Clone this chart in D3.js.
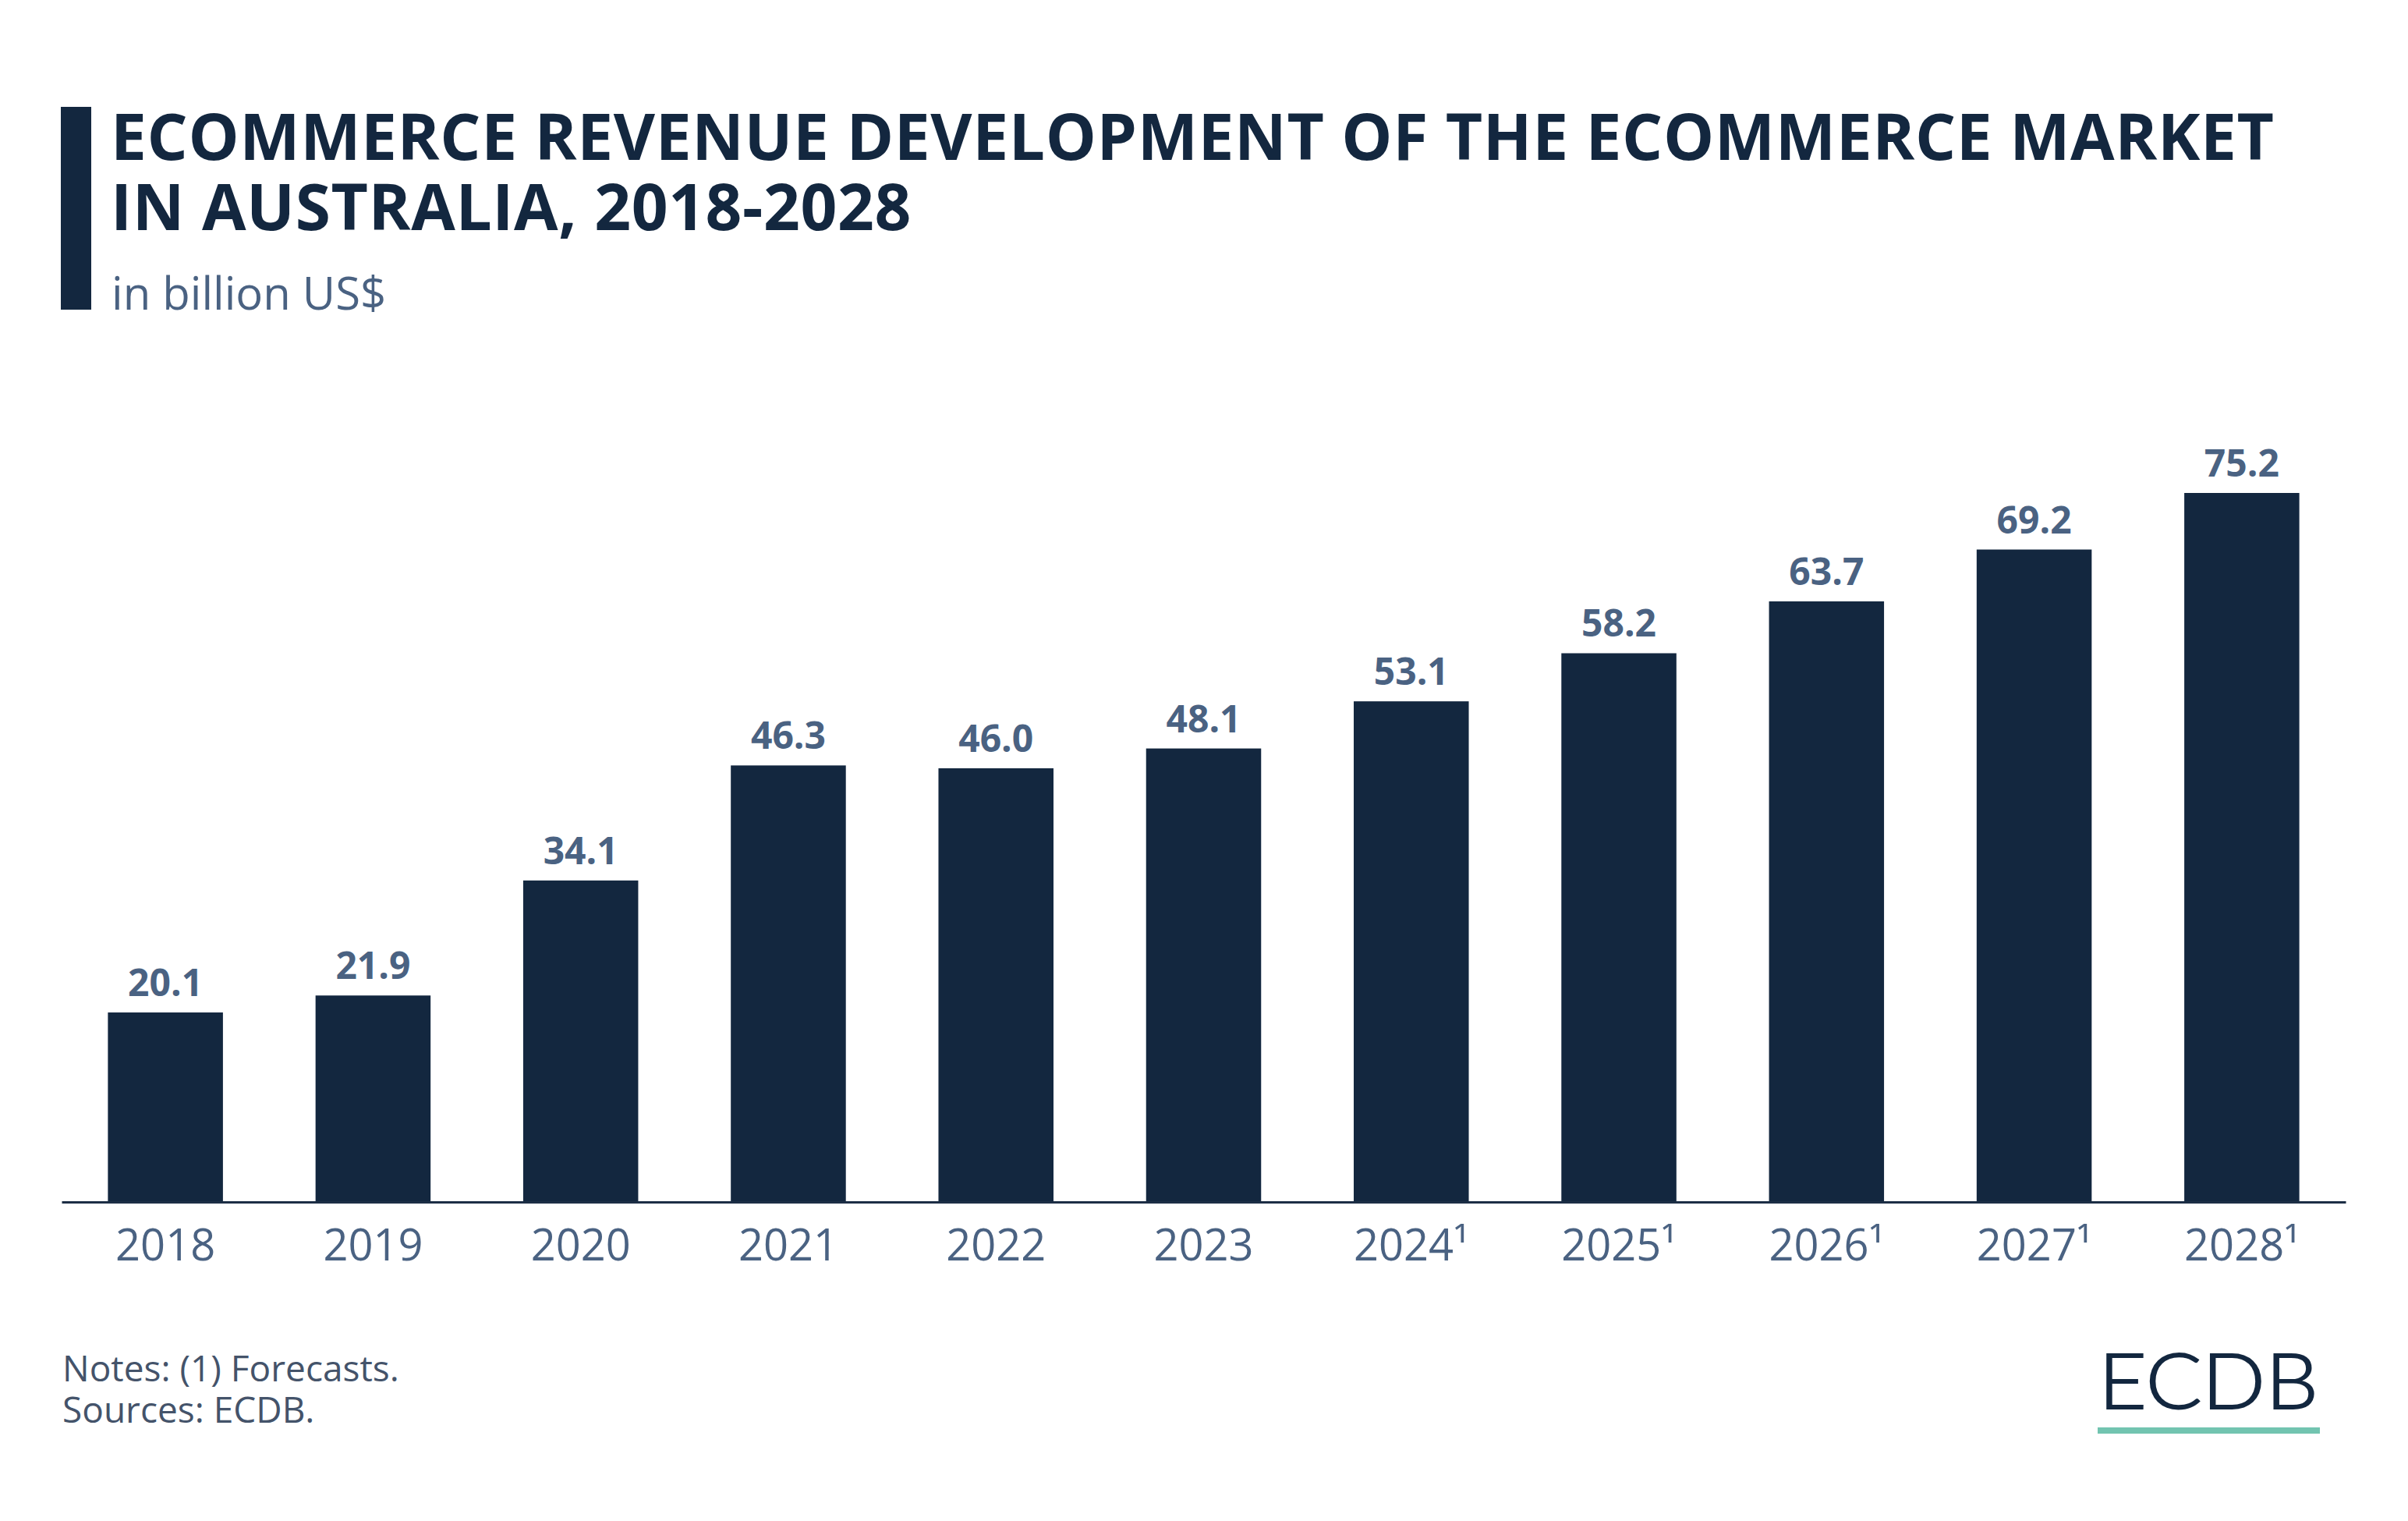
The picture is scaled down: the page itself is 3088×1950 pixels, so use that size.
<!DOCTYPE html>
<html>
<head>
<meta charset="utf-8">
<script src="https://cdn.jsdelivr.net/npm/d3@7"></script>
<style>
  html, body { margin: 0; padding: 0; background: #ffffff; }
  svg { display: block; }
</style>
</head>
<body>
<svg id="chart" width="3088" height="1950"></svg>
<script>
// ---- data ----
const years = ["2018", "2019", "2020", "2021", "2022", "2023", "2024", "2025", "2026", "2027", "2028"];
const yearLabels = ["2018", "2019", "2020", "2021", "2022", "2023", "2024¹", "2025¹", "2026¹", "2027¹", "2028¹"];
const revenue = [20.1, 21.9, 34.1, 46.3, 46.0, 48.1, 53.1, 58.2, 63.7, 69.2, 75.2];
const titleLines = ["ECOMMERCE REVENUE DEVELOPMENT OF THE ECOMMERCE MARKET", "IN AUSTRALIA, 2018-2028"];
const subtitle = "in billion US$";
const notes = ["Notes: (1) Forecasts.", "Sources: ECDB."];

// ---- styles ----
const navy = "#13273f";
const slate = "#4a6282";
const noteColor = "#44536a";
const font = "'Open Sans', 'Noto Sans', sans-serif";

const svg = d3.select("#chart");
svg.append("rect").attr("width", 3088).attr("height", 1950).attr("fill", "#ffffff");

// header
svg.append("rect").attr("x", 78).attr("y", 137).attr("width", 39).attr("height", 260).attr("fill", navy);
titleLines.forEach((t, i) => {
  svg.append("text")
    .attr("x", 142).attr("y", 205 + i * 90)
    .attr("font-family", font).attr("font-weight", 700).attr("font-size", 82)
    .attr("letter-spacing", 0.6)
    .attr("fill", navy)
    .text(t);
});
svg.append("text").attr("x", 143).attr("y", 397)
  .attr("font-family", font).attr("font-size", 58).attr("fill", slate)
  .text(subtitle);

// chart
const x = d3.scaleBand().domain(years).range([79, 3008]).paddingInner(0.446).paddingOuter(0.223);
const y = d3.scaleLinear().domain([0, 75.2]).range([1541, 632]);

svg.append("g").selectAll("rect").data(revenue).join("rect")
  .attr("x", (d, i) => x(years[i]))
  .attr("y", d => y(d))
  .attr("width", x.bandwidth())
  .attr("height", d => y(0) - y(d))
  .attr("fill", navy);

svg.append("g").selectAll("text").data(revenue).join("text")
  .attr("x", (d, i) => x(years[i]) + x.bandwidth() / 2)
  .attr("y", d => y(d) - 21)
  .attr("text-anchor", "middle")
  .attr("font-family", font).attr("font-weight", 700).attr("font-size", 48)
  .attr("fill", slate)
  .text(d => d3.format(".1f")(d));

const axis = svg.append("g").attr("transform", `translate(0,${y(0)})`)
  .call(d3.axisBottom(x).tickSize(0).tickPadding(35).tickFormat((d, i) => yearLabels[i]));
axis.select(".domain").attr("stroke", "#1c2e45").attr("stroke-width", 3);
axis.selectAll("text").attr("font-family", font).attr("font-size", 56).attr("fill", slate);

// footer
notes.forEach((t, i) => {
  svg.append("text").attr("x", 80).attr("y", 1771 + i * 53)
    .attr("font-family", font).attr("font-size", 46).attr("fill", noteColor)
    .text(t);
});

// logo
svg.append("text").attr("x", 2691).attr("y", 1806)
  .attr("font-family", "Lato, 'Noto Sans', sans-serif").attr("font-weight", 300)
  .attr("font-size", 98).attr("fill", navy)
  .attr("stroke", navy).attr("stroke-width", 1.8)
  .attr("textLength", 282).attr("lengthAdjust", "spacingAndGlyphs")
  .text("ECDB");
svg.append("rect").attr("x", 2690).attr("y", 1830).attr("width", 285).attr("height", 8).attr("fill", "#72c4b0");
</script>
</body>
</html>
